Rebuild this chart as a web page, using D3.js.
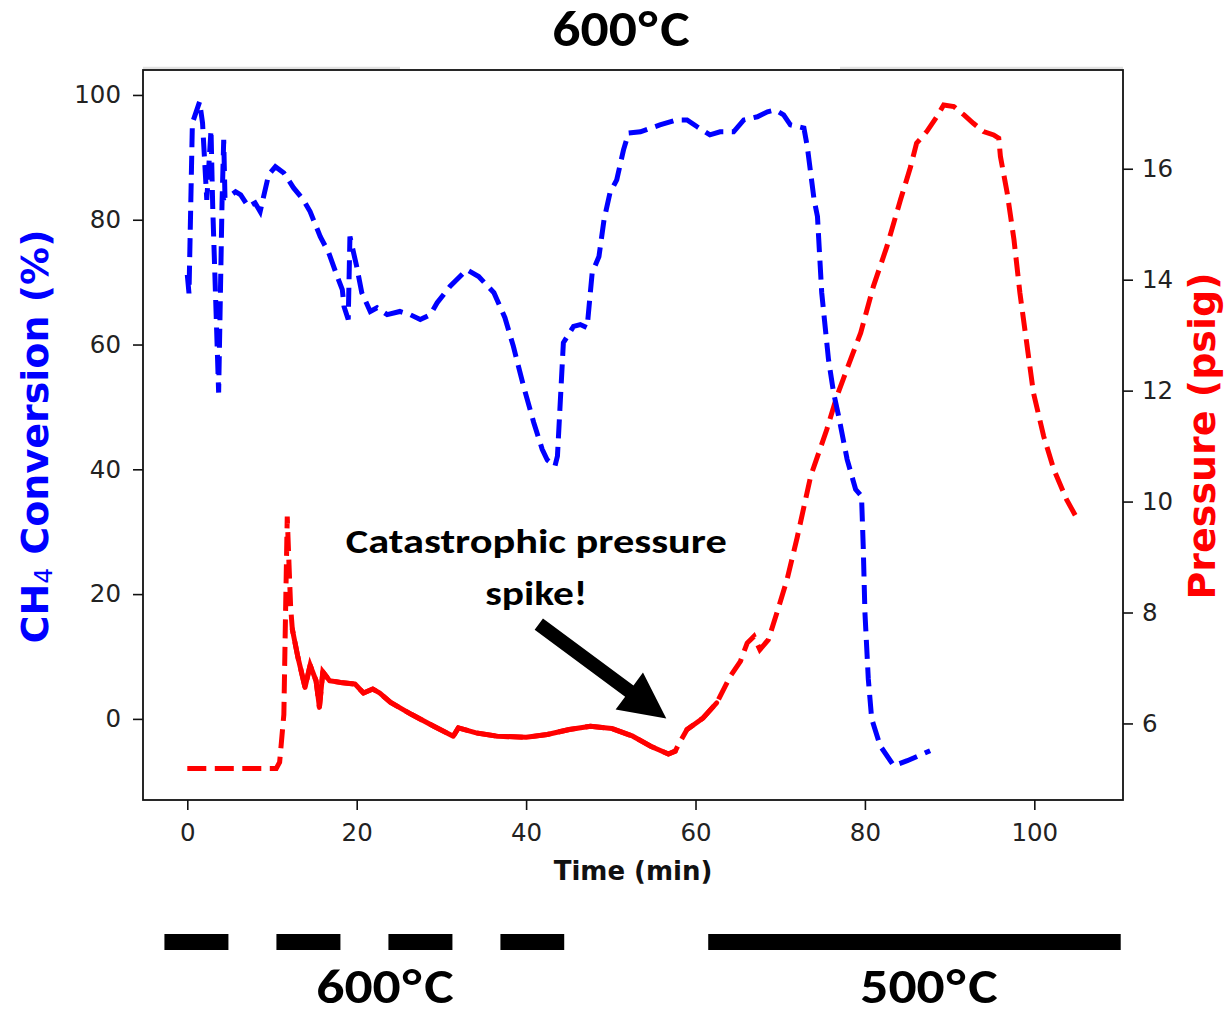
<!DOCTYPE html>
<html>
<head>
<meta charset="utf-8">
<script src="https://cdn.jsdelivr.net/npm/d3@7"></script>
<style>
  body { margin: 0; background: #fff; }
  svg { display: block; }
</style>
</head>
<body>
<svg id="chart" width="1224" height="1017"></svg>
<script>
// CH4 conversion (%) against time on stream (min)
const conversionTime = [
  0.0, 0.2, 0.6, 1.45, 1.8, 2.3, 2.8, 3.0, 3.7, 4.1, 4.3, 4.45, 4.9, 5.7, 6.3, 7.2, 8.0, 8.6,
  9.6, 10.4, 11.4, 12.55, 13.7, 14.5, 15.7, 16.7, 17.7, 18.3, 18.5, 19.0, 19.2, 20.0, 20.6,
  21.6, 22.4, 23.6, 25.1, 26.3, 27.5, 28.7, 29.5, 31.0, 33.0, 34.4, 36.2, 37.5, 38.5, 39.7,
  40.9, 41.9, 42.5, 43.4, 43.7, 44.4, 45.6, 46.4, 47.2, 47.8, 48.6, 49.2, 49.9, 50.7, 51.5,
  52.1, 53.5, 55.8, 57.8, 59.0, 60.2, 61.7, 62.9, 64.5, 65.7, 67.3, 68.5, 69.4, 70.4, 71.2,
  72.8, 73.2, 74.0, 74.4, 74.9, 75.7, 76.3, 76.9, 77.9, 78.9, 79.6, 79.8, 80.0, 80.4, 80.8,
  81.8, 83.4, 85.0, 87.7
];
const conversionValue = [
  71.2, 68.2, 95.5, 98.9, 95.5, 83.2, 94.4, 82.1, 52.3, 82.7, 92.8, 83.5, 83.7, 84.5, 84.0, 82.1, 82.7, 81.3,
  87.2, 88.5, 87.5, 85.1, 83.2, 81.3, 77.3, 74.7, 70.9, 68.8, 66.1, 64.0, 77.3, 72.5, 68.3,
  65.3, 65.9, 64.8, 65.3, 64.8, 64.0, 64.8, 66.7, 69.3, 72.0, 70.9, 68.3, 64.3, 59.7, 53.3,
  47.5, 43.2, 41.5, 40.5, 42.1, 60.3, 62.9, 63.2, 62.7, 71.5, 74.1, 80.0, 84.3, 86.4, 91.2,
  93.9, 94.1, 95.2, 96.0, 96.0, 94.9, 93.6, 94.1, 94.1, 96.0, 96.5, 97.3, 97.6, 96.8, 95.2,
  94.7, 91.7, 83.2, 80.5, 68.3, 57.6, 52.3, 48.5, 41.6, 36.8, 35.7, 27.7, 17.1, 6.4, 0.0,
  -4.3, -7.5, -6.7, -5.1
];

// Reactor pressure (psig) against time (min)
const pressureTime = [
  0.0, 10.5, 10.9, 11.4, 11.6, 11.8, 12.0, 12.2, 12.4, 13.05, 13.9, 14.5, 15.2, 15.6, 16.0,
  16.8, 18.1, 19.8, 20.8, 21.9, 22.7, 24.0, 26.5, 29.1, 31.4, 32.0, 34.1, 36.6, 40.0, 42.5,
  45.1, 47.6, 50.1, 52.6, 54.7, 56.8, 57.6, 58.1, 59.0, 60.0, 60.9, 62.5, 64.1, 65.3, 66.1,
  66.9, 67.6, 68.6, 69.6, 70.8, 72.0, 73.6, 75.5, 76.7, 78.3, 79.5, 81.0, 82.6, 84.2, 85.4,
  86.1, 87.3, 88.5, 89.3, 90.5, 91.7, 92.8, 94.0, 95.2, 95.8, 96.0, 96.8, 97.6, 98.3, 99.1,
  99.9, 101.1, 102.3, 103.8, 105.2
];
const pressureValue = [
  5.19, 5.19, 5.3, 6.16, 7.99, 9.73, 8.9, 8.1, 7.7, 7.2, 6.65, 7.05, 6.77, 6.29, 6.93,
  6.77, 6.74, 6.71, 6.55, 6.62, 6.55, 6.38, 6.16, 5.95, 5.77, 5.92, 5.83, 5.77, 5.75, 5.8,
  5.89, 5.95, 5.91, 5.77, 5.59, 5.45, 5.5, 5.65, 5.89, 6.0, 6.1, 6.37, 6.85, 7.12, 7.45,
  7.57, 7.33, 7.51, 7.99, 8.59, 9.35, 10.46, 11.3, 11.9, 12.56, 13.04, 13.88, 14.6, 15.44, 16.04,
  16.46, 16.67, 16.94, 17.15, 17.12, 16.97, 16.82, 16.67, 16.61, 16.55, 16.22, 15.56, 14.72, 13.76, 12.86,
  11.96, 11.18, 10.58, 10.04, 9.65
];
// Stretches where the pressure logger sampled densely (trace reads as a continuous line)
const denseSpans = [[12.3, 57.7], [58.2, 62.8]];

const timeTicks = [0, 20, 40, 60, 80, 100];
const conversionTicks = [0, 20, 40, 60, 80, 100];
const pressureTicks = [6, 8, 10, 12, 14, 16];

// Furnace set-point phases (min)
const phase600 = [-2.7, 44.5];
const phase500 = [61.5, 110.2];

// Annotation: text and arrow tail/tip in (min, psig)
const noteText = ["Catastrophic pressure", "spike!"];
const arrowTail = [41.5, 7.79];
const arrowTip = [56.55, 6.09];

// ---------------------------------------------------------------------------
const svg = d3.select("#chart");
const frame = { left: 143, right: 1123, top: 70, bottom: 800 };
const BLUE = "#0000ff", RED = "#ff0000";
const calibriLike = "Carlito, Lato, 'Open Sans', sans-serif";
const mplFont = "'DejaVu Sans', sans-serif";

const x = d3.scaleLinear().domain([-5.23, 110.47]).range([frame.left, frame.right]);
const yConv = d3.scaleLinear().domain([-13, 104]).range([frame.bottom, frame.top]);
const yPress = d3.scaleLinear().domain([4.62, 17.78]).range([frame.bottom, frame.top]);

const conversion = conversionTime.map((t, i) => ({ t, v: conversionValue[i] }));
const pressure = pressureTime.map((t, i) => ({ t, v: pressureValue[i] }));

// plot background
svg.append("rect")
  .attr("x", frame.left).attr("y", frame.top)
  .attr("width", frame.right - frame.left).attr("height", frame.bottom - frame.top)
  .attr("fill", "#fff");

// faint band along the top edge outside the title block
[[frame.left, 400], [840, frame.right]].forEach(([a, b]) => {
  svg.append("line")
    .attr("x1", a).attr("x2", b).attr("y1", frame.top - 2).attr("y2", frame.top - 2)
    .attr("stroke", "#e2e2e2").attr("stroke-width", 2.5);
});

// series
const lineConv = d3.line().x(d => x(d.t)).y(d => yConv(d.v));
const linePress = d3.line().x(d => x(d.t)).y(d => yPress(d.v));

svg.append("path").datum(pressure)
  .attr("d", linePress)
  .attr("fill", "none").attr("stroke", RED).attr("stroke-width", 5)
  .attr("stroke-dasharray", "19 8.5");

denseSpans.forEach(([a, b]) => {
  svg.append("path").datum(pressure.filter(d => d.t >= a && d.t <= b))
    .attr("d", linePress)
    .attr("fill", "none").attr("stroke", RED).attr("stroke-width", 5)
    .attr("stroke-linejoin", "round").attr("stroke-linecap", "round");
});

svg.append("path").datum(conversion)
  .attr("d", lineConv)
  .attr("fill", "none").attr("stroke", BLUE).attr("stroke-width", 5)
  .attr("stroke-dasharray", "19 8.5");

// frame outline
svg.append("rect")
  .attr("x", frame.left).attr("y", frame.top)
  .attr("width", frame.right - frame.left).attr("height", frame.bottom - frame.top)
  .attr("fill", "none").attr("stroke", "#111").attr("stroke-width", 1.8);

// axes
function styleAxis(g) {
  g.select(".domain").remove();
  g.selectAll(".tick line").attr("stroke", "#111").attr("stroke-width", 1.6);
  g.selectAll(".tick text")
    .attr("fill", "#222")
    .style("font-family", mplFont).style("font-size", "24.5px");
}

svg.append("g").attr("transform", `translate(0,${frame.bottom})`)
  .call(d3.axisBottom(x).tickValues(timeTicks).tickSize(10).tickPadding(14))
  .call(styleAxis);

svg.append("g").attr("transform", `translate(${frame.left},0)`)
  .call(d3.axisLeft(yConv).tickValues(conversionTicks).tickSize(10).tickPadding(12))
  .call(styleAxis);

svg.append("g").attr("transform", `translate(${frame.right},0)`)
  .call(d3.axisRight(yPress).tickValues(pressureTicks).tickSize(10).tickPadding(9))
  .call(styleAxis);

// axis titles
svg.append("text")
  .attr("x", (frame.left + frame.right) / 2).attr("y", 880)
  .attr("text-anchor", "middle")
  .style("font-family", mplFont).style("font-weight", "bold").style("font-size", "26px")
  .attr("fill", "#111")
  .text("Time (min)");

const convLabel = svg.append("text")
  .attr("transform", "translate(48,436.5) rotate(-90)")
  .attr("text-anchor", "middle")
  .style("font-family", mplFont).style("font-weight", "bold").style("font-size", "38px")
  .attr("fill", BLUE);
convLabel.append("tspan").text("CH");
convLabel.append("tspan").attr("dy", 4).style("font-size", "25px").style("font-weight", "normal").text("4");
convLabel.append("tspan").attr("dy", -4).text("\u00a0Conversion (%)");

svg.append("text")
  .attr("transform", "translate(1215,436) rotate(-90)")
  .attr("text-anchor", "middle")
  .style("font-family", mplFont).style("font-weight", "bold").style("font-size", "38px")
  .attr("fill", RED)
  .text("Pressure (psig)");

// Bold presentation labels: sized by cap height, then fitted to a target width
function bigLabel(parts, cx, baseline, size, width) {
  const g = svg.append("g");
  const t = g.append("text")
    .attr("text-anchor", "middle")
    .style("font-family", calibriLike).style("font-weight", "bold").style("font-size", size + "px")
    .attr("fill", "#000");
  parts.forEach(p => {
    const s = t.append("tspan").text(p.text);
    if (p.dx) s.attr("dx", p.dx);
  });
  const natural = t.node().getComputedTextLength();
  g.attr("transform", `translate(${cx},${baseline}) scale(${width / natural},1)`);
}
const degC = n => [{ text: n }, { text: "\u00b0", dx: 1.5 }, { text: "C", dx: 2.5 }];

bigLabel(degC("600"), 621, 46, 50, 133);

// annotation
const noteX = x(41.2);
bigLabel([{ text: noteText[0] }], noteX, yPress(9.07), 35, 381);
bigLabel([{ text: noteText[1] }], noteX, yPress(8.14), 35, 102);

function arrowPolygon(x0, y0, x1, y1, shaftW, headW, headL) {
  const dx = x1 - x0, dy = y1 - y0, L = Math.hypot(dx, dy);
  const ux = dx / L, uy = dy / L, nx = -uy, ny = ux;
  const bx = x1 - ux * headL, by = y1 - uy * headL;
  return [
    [x0 + nx * shaftW / 2, y0 + ny * shaftW / 2],
    [bx + nx * shaftW / 2, by + ny * shaftW / 2],
    [bx + nx * headW / 2, by + ny * headW / 2],
    [x1, y1],
    [bx - nx * headW / 2, by - ny * headW / 2],
    [bx - nx * shaftW / 2, by - ny * shaftW / 2],
    [x0 - nx * shaftW / 2, y0 - ny * shaftW / 2]
  ];
}
svg.append("polygon")
  .attr("points", arrowPolygon(x(arrowTail[0]), yPress(arrowTail[1]), x(arrowTip[0]), yPress(arrowTip[1]), 14, 46, 46)
    .map(p => p.join(",")).join(" "))
  .attr("fill", "#000");

// temperature programme bars
const barY = 942;
svg.append("line")
  .attr("x1", x(phase600[0])).attr("x2", x(phase600[1]))
  .attr("y1", barY).attr("y2", barY)
  .attr("stroke", "#000").attr("stroke-width", 16)
  .attr("stroke-dasharray", "64 48");
svg.append("line")
  .attr("x1", x(phase500[0])).attr("x2", x(phase500[1]))
  .attr("y1", barY).attr("y2", barY)
  .attr("stroke", "#000").attr("stroke-width", 16);

bigLabel(degC("600"), 385, 1003, 48, 133);
bigLabel(degC("500"), 929, 1003, 48, 133);
</script>
</body>
</html>
